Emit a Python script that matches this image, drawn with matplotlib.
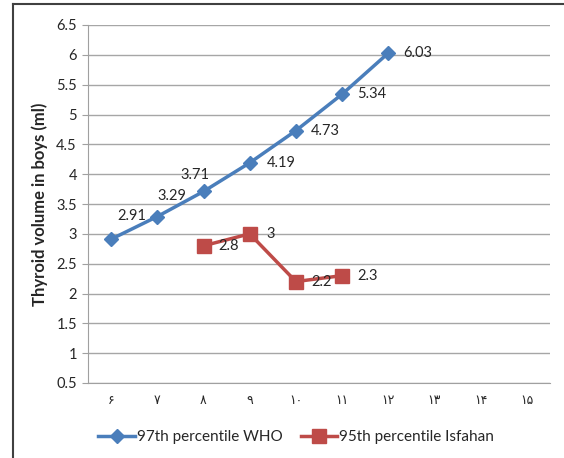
import matplotlib
matplotlib.use('Agg')
import matplotlib.pyplot as plt
from matplotlib.lines import Line2D

# data
ages = ['۶', '۷', '۸', '۹', '۱۰', '۱۱', '۱۲', '۱۳', '۱۴', '۱۵']
who_x = [0, 1, 2, 3, 4, 5, 6]
who_y = [2.91, 3.29, 3.71, 4.19, 4.73, 5.34, 6.03]
isf_x = [2, 3, 4, 5]
isf_y = [2.8, 3.0, 2.2, 2.3]
who_lbl = ['2.91', '3.29', '3.71', '4.19', '4.73', '5.34', '6.03']
isf_lbl = ['2.8', '3', '2.2', '2.3']

blue = '#4A7EBB'
red = '#BE4B48'
txt = '#262626'

plt.rcParams['font.family'] = ['Lato', 'DejaVu Sans']

fig = plt.figure(figsize=(5.64, 4.58), dpi=100)
ax = fig.add_axes([88/564, 1-383/458, (550-88)/564, (383-25)/458])

ax.plot(who_x, who_y, color=blue, lw=2.5, marker='D', ms=7, mec=blue, mfc=blue, zorder=3)
ax.plot(isf_x, isf_y, color=red, lw=2.5, marker='s', ms=10, mec=red, mfc=red, zorder=3)

# label offsets in points (dx, dy)
who_off = [(4.5, 17), (0, 15), (-16.5, 12), (12, 0), (11, 0), (11, 0), (11, 0)]
isf_off = [(11, 0), (12, 0), (11, 0), (11, 0)]
for x, y, s, o in zip(who_x, who_y, who_lbl, who_off):
    ax.annotate(s, (x, y), xytext=o, textcoords='offset points', ha='left', va='center',
                fontsize=10.5, color=txt)
for x, y, s, o in zip(isf_x, isf_y, isf_lbl, isf_off):
    ax.annotate(s, (x, y), xytext=o, textcoords='offset points', ha='left', va='center',
                fontsize=10.5, color=txt)

ax.set_xlim(-0.5, 9.5)
ax.set_ylim(0.5, 6.5)
ax.set_yticks([0.5 + 0.5*i for i in range(13)])
ax.set_yticklabels(['0.5', '1', '1.5', '2', '2.5', '3', '3.5', '4', '4.5', '5', '5.5', '6', '6.5'])
ax.set_xticks(range(10))
ax.set_xticklabels(ages, family=['DejaVu Sans'], fontsize=9)
ax.tick_params(axis='x', length=0, pad=8, colors=txt)
ax.tick_params(axis='y', length=4, color='#A0A0A0', labelsize=10.5, labelcolor=txt, pad=4)
ax.grid(axis='y', color='#A6A6A6', lw=1)
ax.set_axisbelow(True)
for s in ['top', 'right']:
    ax.spines[s].set_visible(False)
ax.spines['left'].set_color('#A0A0A0')
ax.spines['bottom'].set_color('#A0A0A0')
ax.set_ylabel('Thyroid volume in boys (ml)', fontsize=12, fontweight='bold', color=txt, labelpad=6)

handles = [Line2D([], [], color=blue, lw=2.5, marker='D', ms=7),
           Line2D([], [], color=red, lw=2.5, marker='s', ms=10)]
fig.legend(handles, ['97th percentile WHO', '95th percentile Isfahan'], loc='center',
           bbox_to_anchor=(296/564, 1-437/458), ncol=2, frameon=False, fontsize=11,
           handlelength=2.4, handletextpad=0.1, columnspacing=1.2, labelcolor=txt)

# chart frame (top and left edges visible in the crop)
fig.add_artist(Line2D([13/564, 13/564], [0, 1-4/458], color='#404040', lw=1.5, transform=fig.transFigure))
fig.add_artist(Line2D([13/564, 1], [1-4/458, 1-4/458], color='#404040', lw=1.5, transform=fig.transFigure))

fig.savefig('out.png', dpi=100)
